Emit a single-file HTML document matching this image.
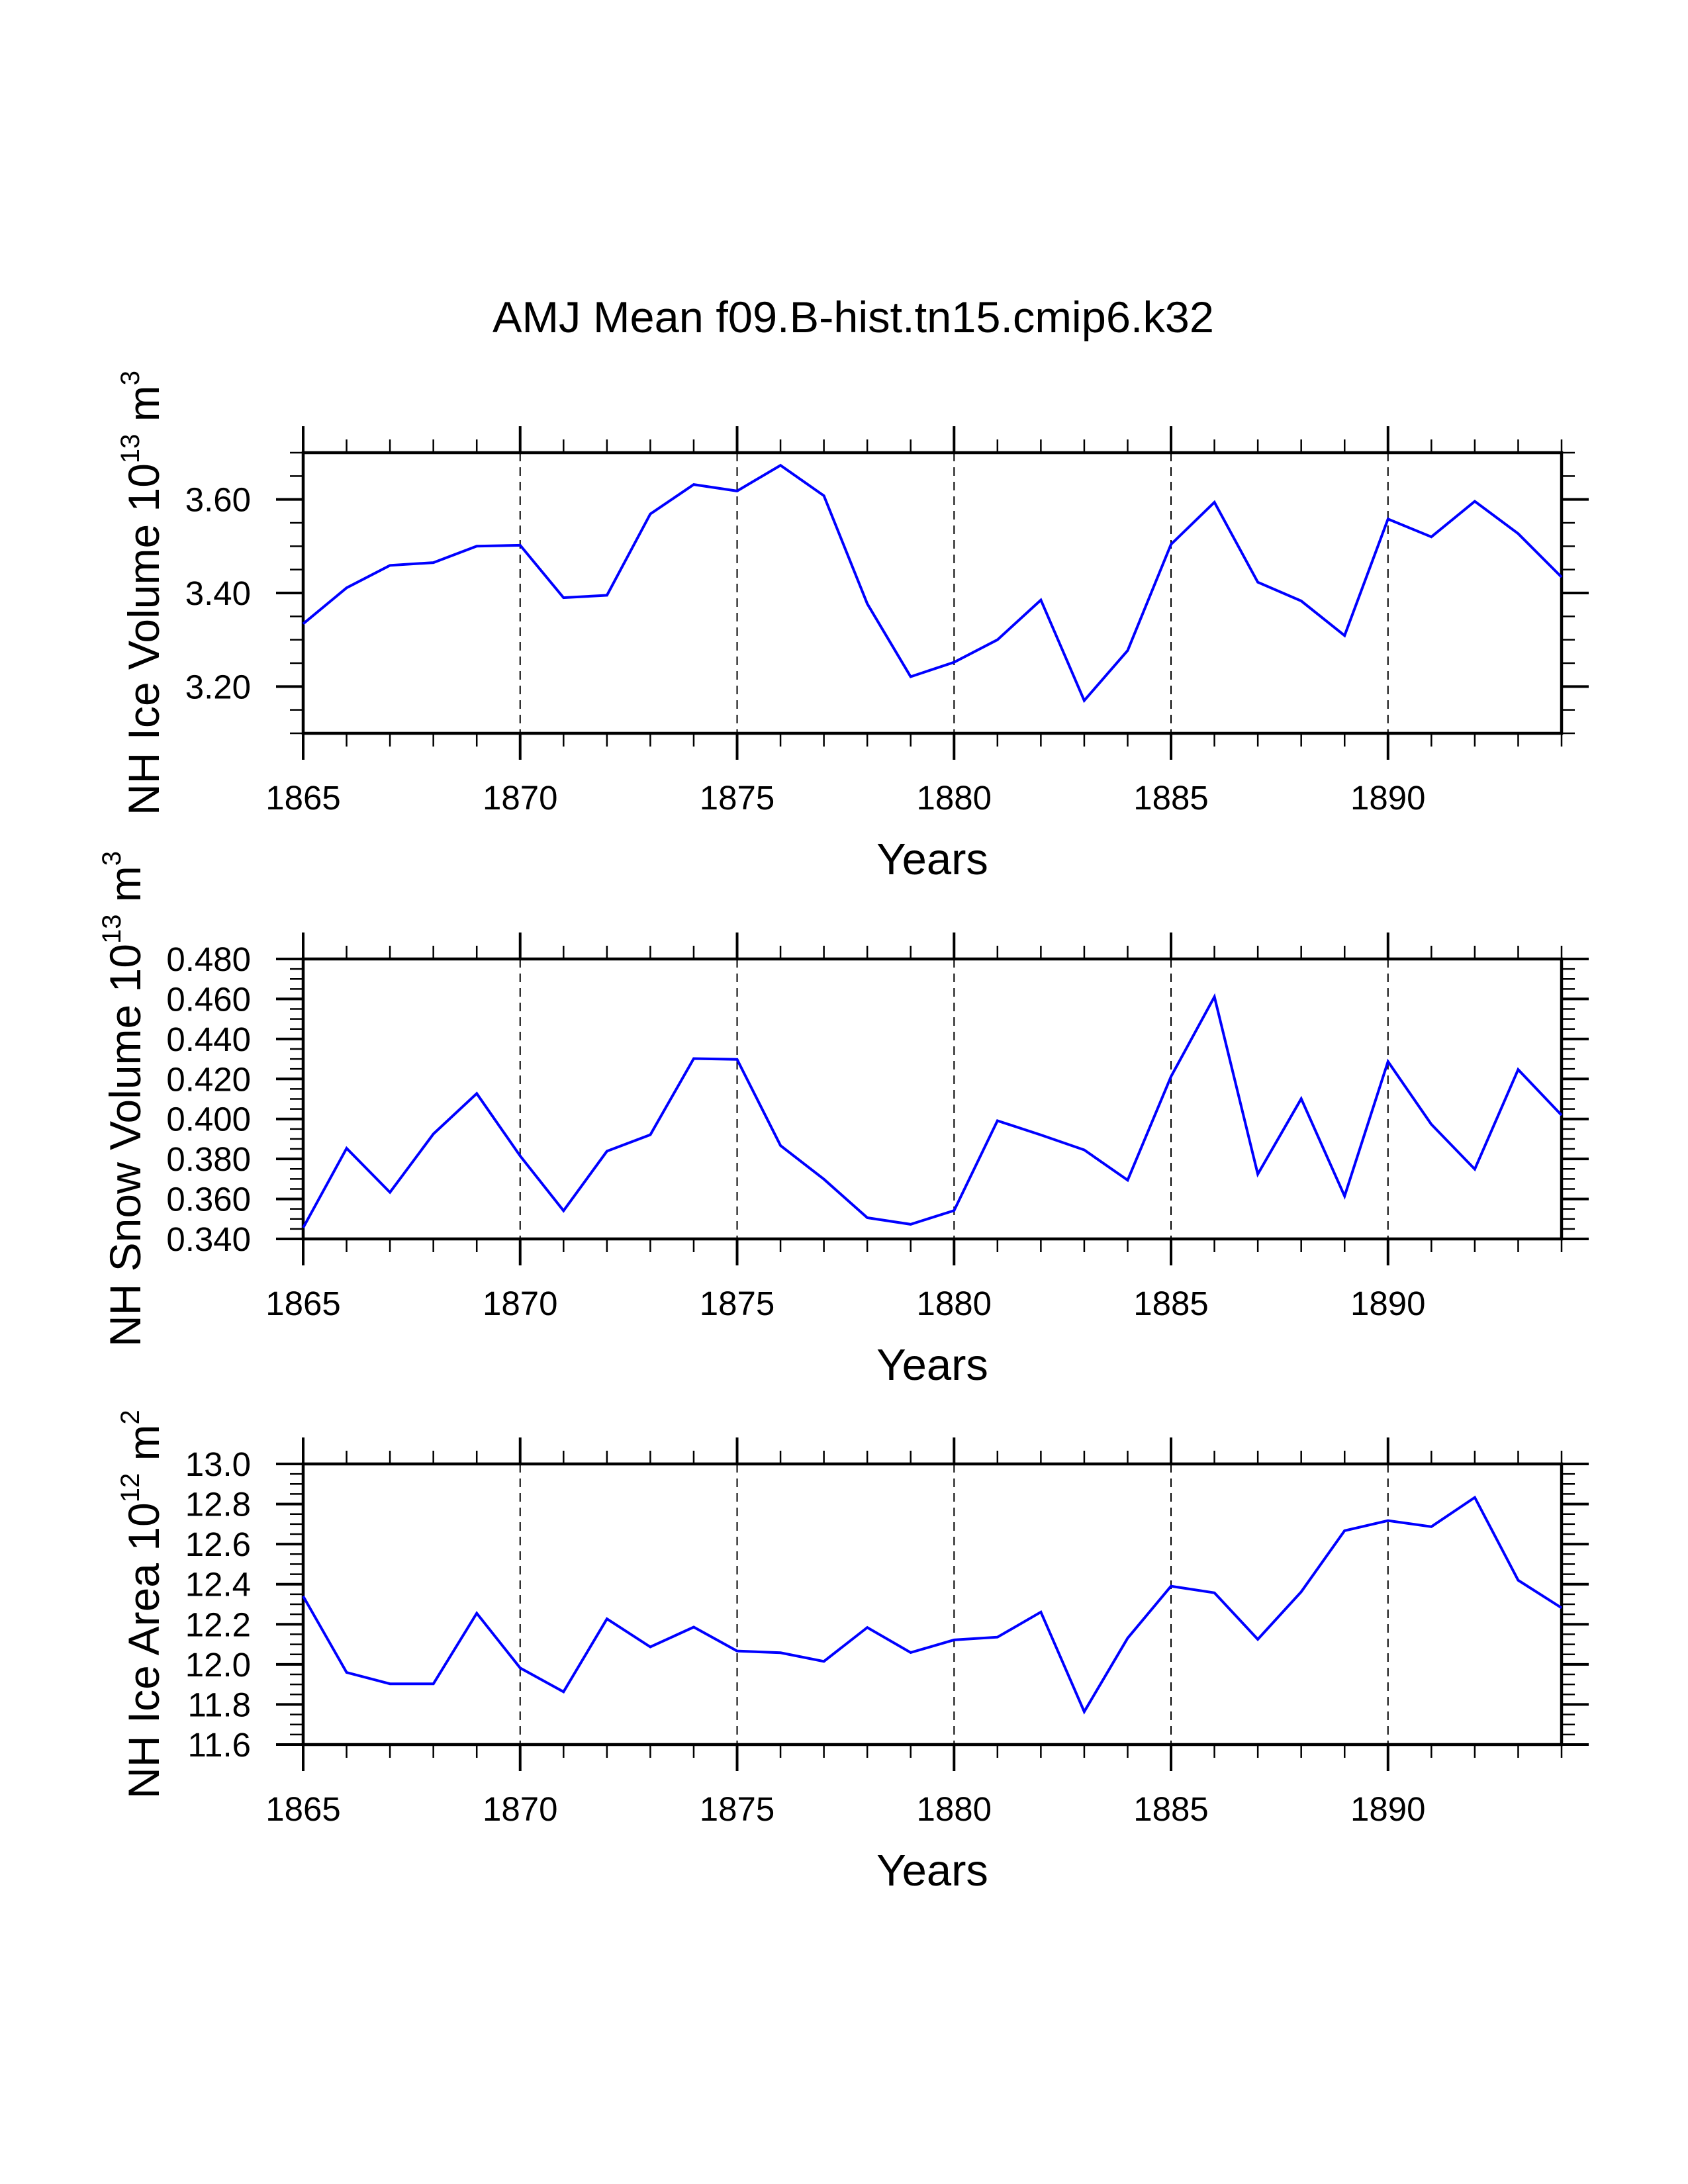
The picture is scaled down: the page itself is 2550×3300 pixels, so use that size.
<!DOCTYPE html>
<html>
<head>
<meta charset="utf-8">
<style>
html,body{margin:0;padding:0;background:#fff;}
svg{display:block;}
text{font-family:"Liberation Sans",Arial,sans-serif;fill:#000;}
</style>
</head>
<body>
<svg id="chart" width="2550" height="3300" viewBox="0 0 2550 3300" xmlns="http://www.w3.org/2000/svg">
<rect x="0" y="0" width="2550" height="3300" fill="#fff"/>
<text x="1289" y="502" font-size="66" text-anchor="middle" textLength="1090" lengthAdjust="spacingAndGlyphs">AMJ Mean f09.B-hist.tn15.cmip6.k32</text>
</svg>
<script>
const years = [1865,1866,1867,1868,1869,1870,1871,1872,1873,1874,1875,1876,1877,1878,1879,1880,1881,1882,1883,1884,1885,1886,1887,1888,1889,1890,1891,1892,1893,1894];
const iceVolume = [3.334,3.411,3.459,3.465,3.500,3.502,3.390,3.395,3.569,3.632,3.618,3.673,3.608,3.377,3.221,3.252,3.300,3.385,3.170,3.277,3.504,3.594,3.423,3.383,3.309,3.558,3.520,3.596,3.527,3.434];
const snowVolume = [0.3456,0.3853,0.3633,0.3925,0.4127,0.3815,0.3541,0.3839,0.3921,0.4302,0.4298,0.3867,0.3699,0.3506,0.3473,0.3542,0.3991,0.3920,0.3845,0.3694,0.4212,0.4611,0.3724,0.4101,0.3614,0.4287,0.3973,0.3749,0.4247,0.4019];
const iceArea = [12.340,11.960,11.903,11.903,12.255,11.982,11.863,12.227,12.087,12.186,12.067,12.058,12.015,12.184,12.059,12.122,12.136,12.261,11.764,12.131,12.390,12.357,12.125,12.362,12.667,12.717,12.687,12.833,12.420,12.282];
const xTickYears = [1865,1870,1875,1880,1885,1890];
const iceVolTicks = ["3.20","3.40","3.60"];
const snowVolTicks = ["0.340","0.360","0.380","0.400","0.420","0.440","0.460","0.480"];
const iceAreaTicks = ["11.6","11.8","12.0","12.2","12.4","12.6","12.8","13.0"];

const NS = "http://www.w3.org/2000/svg";
const svg = document.getElementById('chart');
const X0 = 458, X1 = 2359, XMIN = 1865, XMAX = 1894;
function xs(v){ return X0 + (v - XMIN) / (XMAX - XMIN) * (X1 - X0); }
function mk(tag, attrs, parent){
  const e = document.createElementNS(NS, tag);
  for (const k in attrs) e.setAttribute(k, attrs[k]);
  (parent || svg).appendChild(e);
  return e;
}

const panels = [
  {key:'ice-volume', top:684, bot:1108, ymin:3.1, ymax:3.7, minor:0.05, ticks:iceVolTicks, data:iceVolume,
   title:['NH Ice Volume 10','13',' m','3'], titleX:240},
  {key:'snow-volume', top:1449, bot:1872, ymin:0.34, ymax:0.48, minor:0.005, ticks:snowVolTicks, data:snowVolume,
   title:['NH Snow Volume 10','13',' m','3'], titleX:212},
  {key:'ice-area', top:2212, bot:2636, ymin:11.6, ymax:13.0, minor:0.05, ticks:iceAreaTicks, data:iceArea,
   title:['NH Ice Area 10','12',' m','2'], titleX:240}
];

panels.forEach(p => {
  const g = mk('g', {});
  
  
  const ys = v => p.bot - (v - p.ymin) / (p.ymax - p.ymin) * (p.bot - p.top);

  // dashed vertical grid at major years
  xTickYears.forEach(yr => {
    if (yr === XMIN) return;
    const l = mk('line', {x1:xs(yr), x2:xs(yr), y1:p.top, y2:p.bot, stroke:'#000', 'stroke-width':2, 'stroke-dasharray':'13 9'}, g);
    
    
  });

  // x ticks (top and bottom, outward)
  for (let yr = XMIN; yr <= XMAX; yr++) {
    const major = xTickYears.indexOf(yr) >= 0;
    const len = major ? 40 : 20;
    const w = major ? 4 : 2.5;
    const t1 = mk('line', {x1:xs(yr), x2:xs(yr), y1:p.top, y2:p.top - len, stroke:'#000', 'stroke-width':w}, g);
    
    
    const t2 = mk('line', {x1:xs(yr), x2:xs(yr), y1:p.bot, y2:p.bot + len, stroke:'#000', 'stroke-width':w}, g);
    
    
  }
  xTickYears.forEach(yr => {
    const t = mk('text', {x:xs(yr), y:p.bot + 115, 'font-size':51, 'text-anchor':'middle'}, g);
    
    
    t.textContent = String(yr);
  });

  // y minor/major ticks
  const nMinor = Math.round((p.ymax - p.ymin) / p.minor);
  const majorVals = p.ticks.map(Number);
  for (let i = 0; i <= nMinor; i++) {
    const v = p.ymin + i * p.minor;
    const major = majorVals.some(m => Math.abs(m - v) < 1e-6);
    const len = major ? 41 : 20;
    const w = major ? 4 : 2.5;
    const a = mk('line', {x1:X0, x2:X0 - len, y1:ys(v), y2:ys(v), stroke:'#000', 'stroke-width':w}, g);
    
    
    const b = mk('line', {x1:X1, x2:X1 + len, y1:ys(v), y2:ys(v), stroke:'#000', 'stroke-width':w}, g);
    
    
  }
  p.ticks.forEach(lbl => {
    const t = mk('text', {x:379, y:ys(Number(lbl)) + 18, 'font-size':51, 'text-anchor':'end'}, g);
    
    
    t.textContent = lbl;
  });

  // frame
  const fr = mk('rect', {x:X0, y:p.top, width:X1 - X0, height:p.bot - p.top, fill:'none', stroke:'#000', 'stroke-width':4.5}, g);
  
  

  // data line
  const pts = p.data.map((v, i) => xs(years[i]).toFixed(1) + ',' + ys(v).toFixed(1)).join(' ');
  const pl = mk('polyline', {points:pts, fill:'none', stroke:'#0000ff', 'stroke-width':4, 'stroke-linejoin':'miter'}, g);
  
  

  // x axis title
  const xt = mk('text', {x:(X0 + X1) / 2, y:p.bot + 213, 'font-size':67, 'text-anchor':'middle'}, g);
  
  
  xt.textContent = 'Years';

  // y axis title (rotated)
  const cy = (p.top + p.bot) / 2;
  const yt = mk('text', {x:0, y:0, 'font-size':66, 'text-anchor':'middle', transform:'translate(' + p.titleX + ',' + cy + ') rotate(-90)'}, g);
  
  
  const s1 = mk('tspan', {}, yt); s1.textContent = p.title[0];
  const s2 = mk('tspan', {dy:-30, 'font-size':40}, yt); s2.textContent = p.title[1];
  const s3 = mk('tspan', {dy:30}, yt); s3.textContent = p.title[2];
  const s4 = mk('tspan', {dy:-30, 'font-size':40}, yt); s4.textContent = p.title[3];
});
</script>
</body>
</html>
